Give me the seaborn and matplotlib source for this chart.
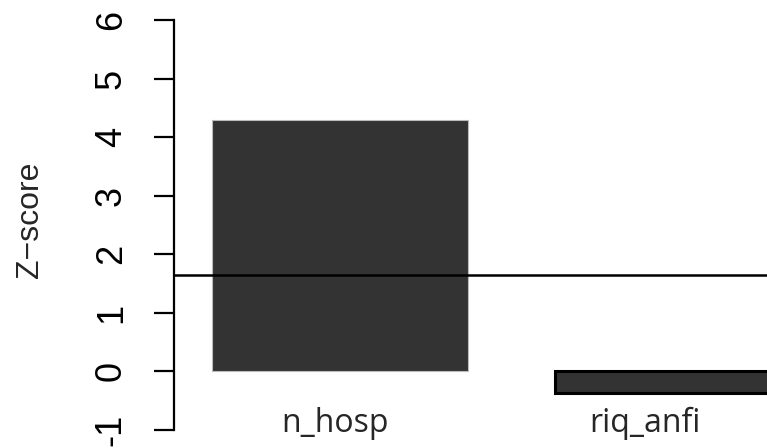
import pandas as pd
import seaborn as sns
import matplotlib.pyplot as plt

# Values
variables = ['n_hosp', 'riq_anfi']
zscores = [4.30, -0.36]
threshold = 1.645
yticks = [-1, 0, 1, 2, 3, 4, 5, 6]

df = pd.DataFrame({'variable': variables, 'z': zscores})

sns.set_style('white')
plt.rcParams['font.family'] = ['Liberation Sans', 'DejaVu Sans']

fig = plt.figure(figsize=(7.67, 4.48), dpi=100)
ax = fig.add_axes([174 / 767, 0, 1 - 174 / 767, 1])

sns.barplot(data=df, x='variable', y='z', color='#333333', saturation=1,
            width=0.746, ax=ax)

# first bar: faint grey outline, second: black outline
ax.patches[0].set_edgecolor('#bbbbbb')
ax.patches[0].set_linewidth(0.8)
ax.patches[1].set_edgecolor('black')
ax.patches[1].set_linewidth(2.2)

ax.axhline(threshold, color='black', lw=1.8)

ax.set_xlim(-0.484, 1.245)
ax.set_ylim(-1.307, 6.341)

# R style left axis only
for side in ['top', 'right', 'bottom']:
    ax.spines[side].set_visible(False)
ax.spines['left'].set_bounds(yticks[0], yticks[-1])
ax.spines['left'].set_linewidth(1.6)
ax.spines['left'].set_color('black')

ax.set_yticks(yticks)
ax.set_yticklabels([str(t) for t in yticks], rotation=90, va='center')
ax.tick_params(axis='y', direction='out', length=14.5, width=1.6,
               pad=18, labelsize=26, colors='black', left=True)
ax.set_xticks([])
ax.set_xlabel('')

ax.set_ylabel('Z\u2212score', fontsize=23)
ax.yaxis.set_label_coords(-0.217, 0.51)

# category names under the bars
label_shift = [-0.015, -0.11]
for i, name in enumerate(variables):
    ax.text(i + label_shift[i], -1.03, name, ha='center', va='baseline',
            fontsize=23, family=['Open Sans', 'DejaVu Sans'])

plt.savefig('out.png', dpi=100)
